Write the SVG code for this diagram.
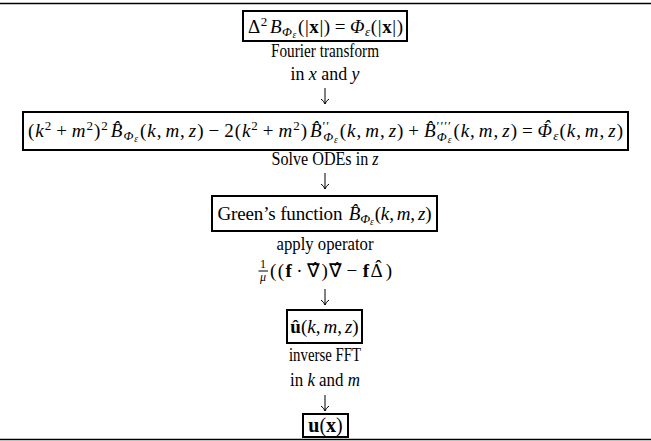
<svg xmlns="http://www.w3.org/2000/svg" width="651" height="441" viewBox="0 0 651 441">
<style>
text{font-family:"Liberation Serif","Times New Roman",serif;font-size:18.5px;fill:#000;text-anchor:middle}
.m{font-size:19px}
.i{font-style:italic}
.b{font-weight:bold}
.sb{font-size:13px}
.ss{font-size:9.5px}
.box{fill:#fff;stroke:#000;stroke-width:2}
.rule{stroke:#000;stroke-width:1.6}
.conn line{stroke:#000;stroke-width:1}
.conn path{fill:none;stroke:#000;stroke-width:1}
</style>
<rect width="651" height="441" fill="#fff"/>
<line class="rule" x1="0" y1="3.5" x2="651" y2="3.5"/>
<line class="rule" x1="0" y1="439.5" x2="651" y2="439.5"/>

<g id="connectors" class="conn">
  <text x="325" y="57" textLength="108" lengthAdjust="spacingAndGlyphs">Fourier transform</text>
  <text x="325" y="80" textLength="69" lengthAdjust="spacingAndGlyphs">in <tspan class="i">x</tspan> and <tspan class="i">y</tspan></text>
  <line x1="325" y1="88" x2="325" y2="104"/><path d="M321,99 Q324,101 325,104 Q326,101 329,99"/>
  <text x="325" y="165" textLength="107" lengthAdjust="spacingAndGlyphs">Solve ODEs in <tspan class="i">z</tspan></text>
  <line x1="325" y1="173" x2="325" y2="189"/><path d="M321,184 Q324,186 325,189 Q326,186 329,184"/>
  <text x="325" y="250" textLength="97" lengthAdjust="spacingAndGlyphs">apply operator</text>
  <text x="263" y="268" style="font-size:12px">1</text>
  <line x1="258.5" y1="271" x2="268" y2="271"/>
  <text x="263" y="281" class="i" style="font-size:12px">μ</text>
  <text x="270" y="277" class="m" style="text-anchor:start" textLength="122" lengthAdjust="spacing">((<tspan class="b">f</tspan><tspan dx="3">·</tspan><tspan dx="3">∇̂)∇̂</tspan><tspan dx="3">−</tspan><tspan class="b" dx="4">f</tspan>Δ<tspan dx="-8.8" dy="-4">ˆ</tspan><tspan dx="2.6" dy="4">)</tspan></text>
  <line x1="325" y1="289" x2="325" y2="305"/><path d="M321,300 Q324,302 325,305 Q326,302 329,300"/>
  <text x="325" y="361" textLength="72" lengthAdjust="spacingAndGlyphs">inverse FFT</text>
  <text x="325" y="386" textLength="70" lengthAdjust="spacingAndGlyphs">in <tspan class="i">k</tspan> and <tspan class="i">m</tspan></text>
  <line x1="325" y1="395" x2="325" y2="411"/><path d="M321,406 Q324,408 325,411 Q326,408 329,406"/>
</g>

<g id="node1">
  <rect class="box" x="243" y="11" width="164" height="30"/>
  <text x="325.5" y="33" class="m" textLength="155" lengthAdjust="spacing">Δ<tspan class="sb" dy="-7">2</tspan><tspan class="i" dy="7" dx="2">B</tspan><tspan class="i sb" dy="3">Φ</tspan><tspan class="i ss" dy="2">ε</tspan><tspan dy="-5" dx="1">(|</tspan><tspan class="b">x</tspan>|)<tspan dx="4">=</tspan><tspan class="i" dx="4">Φ</tspan><tspan class="i sb" dy="3">ε</tspan><tspan dy="-3">(|</tspan><tspan class="b">x</tspan>|)</text>
</g>

<g id="node2">
  <rect class="box" x="23" y="112" width="605" height="38"/>
  <text x="325.5" y="137" class="m" textLength="595" lengthAdjust="spacing">(<tspan class="i">k</tspan><tspan class="sb" dy="-7">2</tspan><tspan dy="7" dx="4">+</tspan><tspan class="i" dx="4">m</tspan><tspan class="sb" dy="-7">2</tspan><tspan dy="7">)</tspan><tspan class="sb" dy="-7">2</tspan><tspan class="i" dy="7" dx="2">B̂</tspan><tspan class="i sb" dy="3">Φ</tspan><tspan class="i ss" dy="2">ε</tspan><tspan dy="-5" dx="1">(</tspan><tspan class="i">k</tspan>,<tspan class="i" dx="3">m</tspan>,<tspan class="i" dx="3">z</tspan>)<tspan dx="4">−</tspan><tspan dx="4">2(</tspan><tspan class="i">k</tspan><tspan class="sb" dy="-7">2</tspan><tspan dy="7" dx="4">+</tspan><tspan class="i" dx="4">m</tspan><tspan class="sb" dy="-7">2</tspan><tspan dy="7">)</tspan><tspan class="i" dx="2">B̂</tspan><tspan class="sb" dy="-7">′′</tspan><tspan class="i sb" dx="-7" dy="11">Φ</tspan><tspan class="i ss" dy="2">ε</tspan><tspan dy="-6" dx="1">(</tspan><tspan class="i">k</tspan>,<tspan class="i" dx="3">m</tspan>,<tspan class="i" dx="3">z</tspan>)<tspan dx="4">+</tspan><tspan class="i" dx="4">B̂</tspan><tspan class="sb" dy="-7">′′′′</tspan><tspan class="i sb" dx="-15" dy="11">Φ</tspan><tspan class="i ss" dy="2">ε</tspan><tspan dy="-6" dx="1">(</tspan><tspan class="i">k</tspan>,<tspan class="i" dx="3">m</tspan>,<tspan class="i" dx="3">z</tspan>)<tspan dx="4">=</tspan><tspan class="i" dx="4">Φ</tspan><tspan class="i" dx="-9.5" dy="-4">ˆ</tspan><tspan class="i sb" dx="2.5" dy="7">ε</tspan><tspan dy="-3">(</tspan><tspan class="i">k</tspan>,<tspan class="i" dx="3">m</tspan>,<tspan class="i" dx="3">z</tspan>)</text>
</g>

<g id="node3">
  <rect class="box" x="212" y="196" width="225" height="35"/>
  <text x="324.5" y="220" class="m" textLength="214" lengthAdjust="spacing">Green’s function <tspan class="i" dx="2">B̂</tspan><tspan class="i sb" dy="3">Φ</tspan><tspan class="i ss" dy="2">ε</tspan><tspan dy="-5" dx="1">(</tspan><tspan class="i">k</tspan>,<tspan class="i" dx="3">m</tspan>,<tspan class="i" dx="3">z</tspan>)</text>
</g>

<g id="node4">
  <rect class="box" x="287" y="310" width="75" height="33"/>
  <text x="324.5" y="333" class="m"><tspan class="b">û</tspan>(<tspan class="i">k</tspan>,<tspan class="i" dx="3">m</tspan>,<tspan class="i" dx="3">z</tspan>)</text>
</g>

<g id="node5">
  <rect class="box" x="303" y="414" width="45" height="23"/>
  <text x="325.5" y="432" style="font-size:20px"><tspan class="b">u</tspan>(<tspan class="b">x</tspan>)</text>
</g>
</svg>
